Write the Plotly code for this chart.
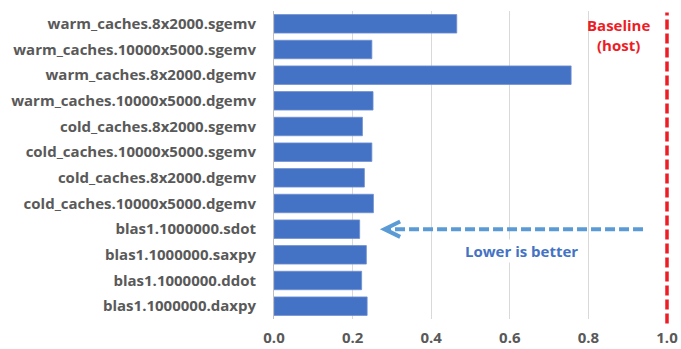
import plotly.graph_objects as go

# Benchmarks, top to bottom, and their runtime normalised to the host
benchmarks = [
    "warm_caches.8x2000.sgemv",
    "warm_caches.10000x5000.sgemv",
    "warm_caches.8x2000.dgemv",
    "warm_caches.10000x5000.dgemv",
    "cold_caches.8x2000.sgemv",
    "cold_caches.10000x5000.sgemv",
    "cold_caches.8x2000.dgemv",
    "cold_caches.10000x5000.dgemv",
    "blas1.1000000.sdot",
    "blas1.1000000.saxpy",
    "blas1.1000000.ddot",
    "blas1.1000000.daxpy",
]
relative_time = [0.465, 0.249, 0.756, 0.252, 0.225, 0.249, 0.230, 0.253, 0.218, 0.235, 0.223, 0.237]
x_ticks = [0.0, 0.2, 0.4, 0.6, 0.8, 1.0]
baseline = 1.0

BAR_BLUE = "#4472C4"
ARROW_BLUE = "#5B9BD5"
RED = "#EE1C25"
GRAY = "#595959"
FONT = "Open Sans"

fig = go.Figure(
    go.Bar(
        x=relative_time,
        y=benchmarks,
        orientation="h",
        marker=dict(color=BAR_BLUE, line=dict(color="#6f8fd0", width=0.8)),
        width=0.72,
    )
)

# dashed baseline at host runtime (x range is [0, 1], so paper x == data x here)
fig.add_shape(
    type="line", xref="paper", yref="paper",
    x0=baseline, x1=baseline, y0=-0.015, y1=0.995,
    line=dict(color=RED, width=3.5, dash="10px,4px"),
)

# "lower is better" arrow: dashed shaft plus open chevron head
arrow_row = benchmarks.index("blas1.1000000.sdot")
tip_x, tail_x = 0.281, 0.939
fig.add_shape(
    type="line", xref="x", yref="y",
    x0=tail_x, x1=tip_x + 0.01, y0=arrow_row, y1=arrow_row,
    line=dict(color=ARROW_BLUE, width=4, dash="10px,4px"),
)
fig.add_shape(
    type="path", xref="x", yref="y",
    path=f"M {tip_x + 0.04} {arrow_row - 0.30} L {tip_x} {arrow_row} L {tip_x + 0.04} {arrow_row + 0.30}",
    line=dict(color=ARROW_BLUE, width=4),
)

fig.add_annotation(
    x=0.630, y=arrow_row + 0.85, xref="x", yref="y",
    text="<b>Lower is better</b>", showarrow=False,
    bgcolor="white", borderpad=1,
    font=dict(family=FONT, size=15, color=BAR_BLUE),
)
fig.add_annotation(
    x=0.877, y=0.995, xref="x", yref="paper", yanchor="top",
    text="<b>Baseline<br>(host)</b>", showarrow=False,
    font=dict(family=FONT, size=15, color=RED),
)

fig.update_layout(
    width=681, height=349,
    margin=dict(l=274, r=14, t=11, b=30),
    plot_bgcolor="white", paper_bgcolor="white",
    showlegend=False,
    bargap=0.28,
    font=dict(family=FONT, color=GRAY),
)
fig.update_xaxes(
    range=[0, 1.0],
    tickvals=x_ticks,
    tickformat=".1f",
    showgrid=True, gridcolor="#D9D9D9", gridwidth=1,
    zeroline=False,
    tickfont=dict(family=FONT, size=15, color=GRAY, weight="bold"),
    ticks="", ticklabelstandoff=8,
    automargin=False,
)
fig.update_yaxes(
    autorange="reversed",
    showline=True, linecolor="#BFBFBF", linewidth=1,
    ticks="", ticklabelstandoff=14,
    tickfont=dict(family=FONT, size=15, color=GRAY, weight="bold"),
    automargin=False,
)

fig.write_html("out.html")
